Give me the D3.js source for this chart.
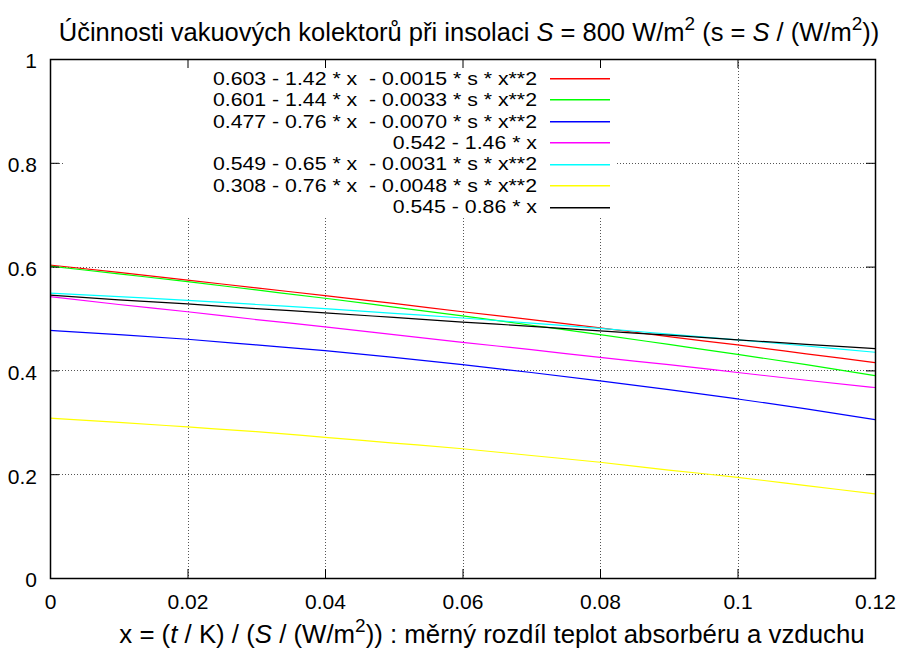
<!DOCTYPE html>
<html><head><meta charset="utf-8">
<script src="https://cdn.jsdelivr.net/npm/d3@7"></script>
<style>
body{margin:0;background:#fff;}
text{font-family:"Liberation Sans",Arial,Helvetica,sans-serif;fill:#000;white-space:pre;}
</style></head>
<body><svg id="c" width="901" height="648"></svg>
<script>
const xTicks = [0, 0.02, 0.04, 0.06, 0.08, 0.1, 0.12];
const xTickLabels = ["0", "0.02", "0.04", "0.06", "0.08", "0.1", "0.12"];
const yTicks = [0, 0.2, 0.4, 0.6, 0.8, 1];
const yTickLabels = ["0", "0.2", "0.4", "0.6", "0.8", "1"];
const xSamples = [0, 0.01, 0.02, 0.03, 0.04, 0.05, 0.06, 0.07, 0.08, 0.09, 0.10, 0.11, 0.12];
const seriesNames = [
  "0.603 - 1.42 * x  - 0.0015 * s * x**2",
  "0.601 - 1.44 * x  - 0.0033 * s * x**2",
  "0.477 - 0.76 * x  - 0.0070 * s * x**2",
  "0.542 - 1.46 * x",
  "0.549 - 0.65 * x  - 0.0031 * s * x**2",
  "0.308 - 0.76 * x  - 0.0048 * s * x**2",
  "0.545 - 0.86 * x"
];
const seriesColors = ["#ff0000", "#00ff00", "#0000ff", "#ff00ff", "#00ffff", "#ffff00", "#000000"];
const s1 = [0.603, 0.589, 0.574, 0.559, 0.544, 0.529, 0.513, 0.498, 0.482, 0.465, 0.449, 0.432, 0.415];
const s2 = [0.601, 0.586, 0.571, 0.555, 0.539, 0.522, 0.505, 0.487, 0.469, 0.450, 0.431, 0.411, 0.390];
const s3 = [0.477, 0.469, 0.460, 0.449, 0.438, 0.425, 0.411, 0.396, 0.380, 0.363, 0.345, 0.326, 0.305];
const s4 = [0.542, 0.527, 0.513, 0.498, 0.484, 0.469, 0.454, 0.440, 0.425, 0.411, 0.396, 0.381, 0.367];
const s5 = [0.549, 0.542, 0.535, 0.527, 0.519, 0.510, 0.501, 0.491, 0.481, 0.470, 0.459, 0.447, 0.435];
const s6 = [0.308, 0.300, 0.291, 0.282, 0.271, 0.260, 0.249, 0.236, 0.223, 0.208, 0.194, 0.178, 0.162];
const s7 = [0.545, 0.536, 0.528, 0.519, 0.511, 0.502, 0.493, 0.485, 0.476, 0.468, 0.459, 0.450, 0.442];
const seriesValues = [s1, s2, s3, s4, s5, s6, s7];

const svg = d3.select("#c");
svg.append("rect").attr("width", 901).attr("height", 648).attr("fill", "#fff");
const L = 50, R = 875, T = 59, B = 578;
const x = d3.scaleLinear().domain([0, 0.12]).range([L, R]);
const y = d3.scaleLinear().domain([0, 1]).range([B, T]);
const FS = 21, LFS = 18.5, BIG = 25.5;

// grid
const grid = svg.append("g").attr("stroke", "#555").attr("stroke-width", 1).attr("stroke-dasharray", "1,2");
xTicks.slice(1, -1).forEach(v => grid.append("line").attr("x1", Math.round(x(v)) + 0.5).attr("x2", Math.round(x(v)) + 0.5).attr("y1", T).attr("y2", B));
yTicks.slice(1, -1).forEach(v => grid.append("line").attr("y1", Math.round(y(v)) + 0.5).attr("y2", Math.round(y(v)) + 0.5).attr("x1", L).attr("x2", R));

// curves
const line = d3.line().x((d, i) => x(xSamples[i])).y(d => y(d)).curve(d3.curveMonotoneX);
const lines = svg.append("g");
seriesValues.forEach((vals, k) => {
  lines.append("path").attr("d", line(vals)).attr("fill", "none").attr("stroke", seriesColors[k]).attr("stroke-width", 1.2);
});

// legend (opaque box)
const leg = svg.append("g");
leg.append("rect").attr("x", 64).attr("y", T).attr("width", 615 - 64).attr("height", 217 - T).attr("fill", "#fff");
seriesNames.forEach((n, k) => {
  const cy = 78 + k * 21.45;
  const t = leg.append("text").attr("x", 537).attr("y", cy + 6.6).attr("text-anchor", "end").attr("font-size", LFS).text(n);
  const w = t.node().getComputedTextLength();
  t.attr("textLength", w * 1.15).attr("lengthAdjust", "spacingAndGlyphs");
  leg.append("rect").attr("x", 550).attr("width", 60).attr("y", Math.round(cy)).attr("height", 1.5)
    .attr("fill", seriesColors[k]);
});

// axes with inward ticks
const tk = 9;
const ax = svg.append("g").attr("transform", `translate(0,${B})`)
  .call(d3.axisBottom(x).tickValues(xTicks).tickFormat((d, i) => xTickLabels[i]).tickSize(-tk).tickPadding(16));
const axT = svg.append("g").attr("transform", `translate(0,${T})`)
  .call(d3.axisTop(x).tickValues(xTicks).tickFormat("").tickSize(-tk));
const ay = svg.append("g").attr("transform", `translate(${L},0)`)
  .call(d3.axisLeft(y).tickValues(yTicks).tickFormat((d, i) => yTickLabels[i]).tickSize(-tk).tickPadding(13));
const ayR = svg.append("g").attr("transform", `translate(${R},0)`)
  .call(d3.axisRight(y).tickValues(yTicks).tickFormat("").tickSize(-tk));
[ax, axT, ay, ayR].forEach(g => {
  g.select(".domain").remove();
  g.selectAll(".tick line").attr("stroke", "#000").attr("stroke-width", 1);
  g.selectAll("text").attr("font-size", FS).attr("font-family", null).attr("fill", "#000");
});
ay.selectAll("text").attr("dy", "0.42em");
svg.append("rect").attr("x", L + 0.5).attr("y", T + 0.5).attr("width", R - L).attr("height", B - T)
  .attr("fill", "none").attr("stroke", "#000").attr("stroke-width", 1.5);

// title
const title = svg.append("text").attr("x", 469).attr("y", 41).attr("text-anchor", "middle").attr("font-size", BIG);
title.append("tspan").text("Účinnosti vakuových kolektorů při insolaci ");
title.append("tspan").attr("font-style", "italic").text("S");
title.append("tspan").text(" = 800 W/m");
title.append("tspan").attr("dy", -11).attr("font-size", 19).text("2");
title.append("tspan").attr("dy", 11).text(" (s = ");
title.append("tspan").attr("font-style", "italic").text("S");
title.append("tspan").text(" / (W/m");
title.append("tspan").attr("dy", -11).attr("font-size", 19).text("2");
title.append("tspan").attr("dy", 11).text("))");

// x label
const xl = svg.append("text").attr("x", 492).attr("y", 643).attr("text-anchor", "middle").attr("font-size", BIG + 0.3);
xl.append("tspan").text("x = (");
xl.append("tspan").attr("font-style", "italic").text("t");
xl.append("tspan").text(" / K) / (");
xl.append("tspan").attr("font-style", "italic").text("S");
xl.append("tspan").text(" / (W/m");
xl.append("tspan").attr("dy", -11).attr("font-size", 19).text("2");
xl.append("tspan").attr("dy", 11).text(")) : měrný rozdíl teplot absorbéru a vzduchu");
</script></body></html>
